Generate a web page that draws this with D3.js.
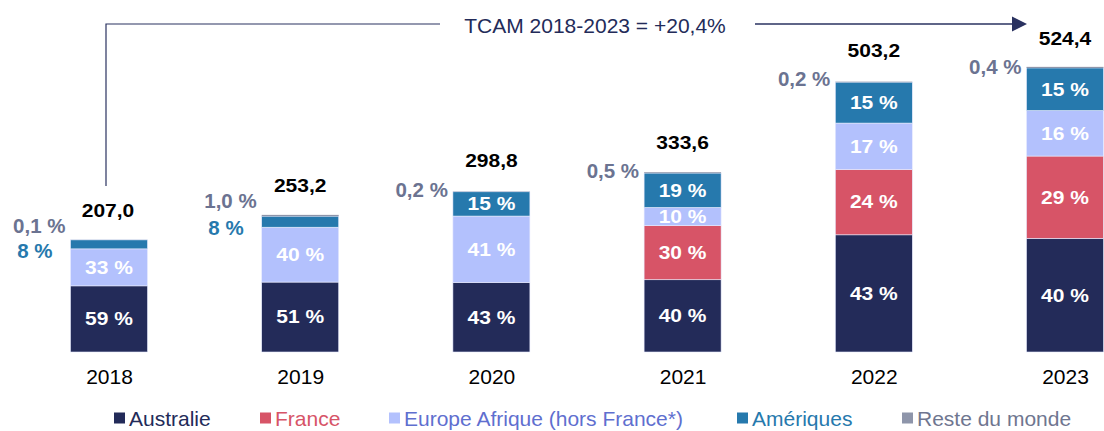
<!DOCTYPE html>
<html>
<head>
<meta charset="utf-8">
<script src="https://cdn.jsdelivr.net/npm/d3@7"></script>
<style>
  body { margin: 0; background: #fff; }
  text { font-family: "Liberation Sans", Arial, sans-serif; }
</style>
</head>
<body>
<div class="chart"></div>
<script>
// chart data
var years = ["2018", "2019", "2020", "2021", "2022", "2023"];
var totals = [207.0, 253.2, 298.8, 333.6, 503.2, 524.4];
var series = ["Australie", "France", "Europe Afrique (hors France*)", "Amériques", "Reste du monde"];
var australie = [59, 51, 43, 40, 43, 40];
var france = [0, 0, 0, 30, 24, 29];
var europe = [33, 40, 41, 10, 17, 16];
var ameriques = [8, 8, 15, 19, 15, 15];
var reste = [0.1, 1.0, 0.2, 0.5, 0.2, 0.4];
var growthLabel = "TCAM 2018-2023 = +20,4%";

var colors = ["#232b59", "#d75467", "#b3c1fd", "#2679ad", "#8e95aa"];
var labelGray = "#6b7391";

var width = 1104, height = 431;
var barW = 77;

var svg = d3.select(".chart").append("svg")
    .attr("width", width)
    .attr("height", height);

var xScale = d3.scalePoint().domain(years).range([109, 1065]);
var yScale = d3.scaleLinear().domain([0, 524.4]).range([352, 68]);

var shares = [australie, france, europe, ameriques, reste];
var fmtPct = function (v, dec) { return (dec ? v.toFixed(1) : String(v)).replace(".", ",") + " %"; };

// bold labels look horizontally stretched in the original
function boldLabel(x, y, txt, color, anchor) {
    return svg.append("text")
        .attr("transform", "translate(" + x + "," + y + ") scale(1.2,1)")
        .attr("dy", ".36em")
        .style("text-anchor", anchor || "middle")
        .style("font-size", "17.5px")
        .style("font-weight", "bold")
        .style("fill", color)
        .text(txt);
}

// build stacked rows
var rows = years.map(function (y, i) {
    var row = { year: y, total: totals[i] };
    series.forEach(function (s, k) { row[s] = shares[k][i] / 100 * totals[i]; });
    return row;
});
var stack = d3.stack().keys(series)(rows);

var bars = svg.append("g");
stack.forEach(function (layer, k) {
    bars.selectAll(".seg" + k)
        .data(layer)
        .enter().append("rect")
        .attr("x", function (d) { return xScale(d.data.year) - barW / 2; })
        .attr("width", barW)
        .attr("y", function (d) { return yScale(d[1]); })
        .attr("height", function (d) { return yScale(d[0]) - yScale(d[1]); })
        .style("fill", colors[k])
        .style("stroke", function (d) { return (k < 4 && d[1] - d[0] > 0) ? "#e8ecff" : "none"; })
        .style("stroke-width", 0.6);
});

// labels inside segments (or left of bar when too thin)
stack.forEach(function (layer, k) {
    if (k === 4) return;
    layer.forEach(function (d, i) {
        var h = yScale(d[0]) - yScale(d[1]);
        var v = shares[k][i];
        if (v <= 0) return;
        var cx = xScale(d.data.year);
        if (h >= 16) {
            boldLabel(cx, (yScale(d[0]) + yScale(d[1])) / 2, fmtPct(v), "#fff");
        } else {
            svg.append("text")
                .attr("x", cx - barW / 2 - 18)
                .attr("y", yScale(d[1]) + 11)
                .attr("dy", ".36em")
                .style("text-anchor", "end")
                .style("font-size", "20.5px")
                .style("font-weight", "bold")
                .style("fill", colors[3])
                .text(fmtPct(v));
        }
    });
});

// reste du monde labels to the left of bar top
years.forEach(function (y, i) {
    var top = yScale(totals[i]);
    var amOutside = (yScale(0) - yScale(ameriques[i] / 100 * totals[i])) < 16;
    svg.append("text")
        .attr("x", xScale(y) - barW / 2 - 5)
        .attr("y", top + (amOutside ? -14.5 : -1))
        .attr("dy", ".36em")
        .style("text-anchor", "end")
        .style("font-size", "20.5px")
        .style("font-weight", "bold")
        .style("fill", labelGray)
        .text(fmtPct(reste[i], true));
});

// totals
years.forEach(function (y, i) {
    boldLabel(xScale(y) + (i === 0 ? -1 : 0), yScale(totals[i]) - 29,
        totals[i].toFixed(1).replace(".", ","), "#000");
});

// x axis labels
var xAxis = d3.axisBottom(xScale).tickSize(0).tickPadding(11);
svg.append("g")
    .attr("transform", "translate(0,358)")
    .call(xAxis)
    .call(function (g) { g.select(".domain").remove(); })
    .selectAll("text")
    .style("font-family", "'Liberation Sans', Arial, sans-serif")
    .style("font-size", "21px")
    .style("fill", "#000");

// growth annotation
var lineColor = "#2a3260";
var x0 = xScale(years[0]) - 3;
svg.append("path")
    .attr("d", "M" + x0 + "," + 186 + "V24H440")
    .style("fill", "none")
    .style("stroke", lineColor)
    .style("stroke-width", 1.2);
svg.append("path")
    .attr("d", "M755,24H1013")
    .style("fill", "none")
    .style("stroke", lineColor)
    .style("stroke-width", 1.5);
svg.append("path")
    .attr("d", "M1012,16.5L1027,24L1012,31.5Z")
    .style("fill", lineColor);
svg.append("text")
    .attr("x", 595)
    .attr("y", 25)
    .attr("dy", ".36em")
    .style("text-anchor", "middle")
    .style("font-size", "21px")
    .style("fill", "#232b59")
    .text(growthLabel);

// legend
var legendX = [114, 260, 389, 737, 902];
var textColors = ["#232b59", "#d75467", "#5f6fcf", "#2679ad", "#6f7690"];
var legend = svg.selectAll(".legend")
    .data(series)
    .enter().append("g")
    .attr("class", "legend")
    .attr("transform", function (d, i) { return "translate(" + legendX[i] + ",418)"; });

legend.append("rect")
    .attr("x", 0)
    .attr("y", -5.5)
    .attr("width", 11)
    .attr("height", 11)
    .style("fill", function (d, i) { return colors[i]; });

legend.append("text")
    .attr("x", 15)
    .attr("y", 0)
    .attr("dy", ".36em")
    .style("font-size", "21px")
    .style("fill", function (d, i) { return textColors[i]; })
    .text(function (d) { return d; });
</script>
</body>
</html>
